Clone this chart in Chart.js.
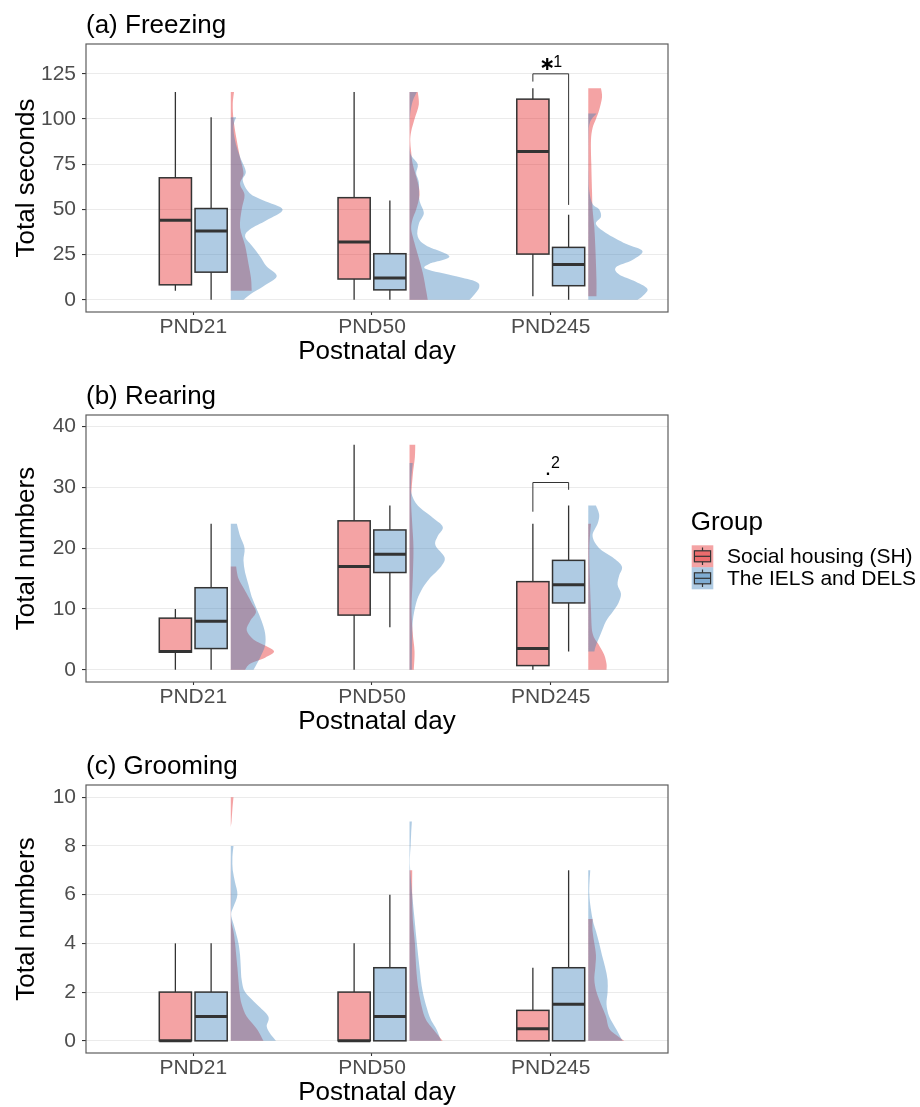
<!DOCTYPE html>
<html>
<head>
<meta charset="utf-8">
<script src="https://cdn.jsdelivr.net/npm/chart.js@4.4.0/dist/chart.umd.min.js"></script>
<style>
  html, body { margin: 0; padding: 0; background: #ffffff; }
  #wrap { position: relative; width: 920px; height: 1107px; overflow: hidden; background: #fff; }
  canvas { position: absolute; left: 0; }
</style>
</head>
<body>
<div id="wrap">
  <canvas id="cA" width="920" height="370" style="top:0px"></canvas>
  <canvas id="cB" width="920" height="370" style="top:370px"></canvas>
  <canvas id="cC" width="920" height="367" style="top:740px"></canvas>
</div>
<script>
// ---------------- DATA ----------------
const categories = ['PND21', 'PND50', 'PND245'];
const catPositions = [1, 2, 3];
const groupNames = ['Social housing (SH)', 'The IELS and DELS'];

// Box summaries per category: [lower whisker, Q1, median, Q3, upper whisker]
const freezingSH   = [[5, 8.3, 44, 67.5, 115], [0, 11.5, 32, 56.5, 115], [2, 25.3, 82, 111, 117]];
const freezingIELS = [[0, 15.3, 38, 50.5, 101], [0, 5.5, 12, 25.5, 55], [0, 7.8, 19.5, 29, 47]];
const rearingSH    = [[0, 2.9, 3, 8.5, 10], [0, 9, 17, 24.5, 37], [0, 0.7, 3.5, 14.5, 24]];
const rearingIELS  = [[0, 3.5, 8, 13.5, 24], [7, 16, 19, 23, 27], [3, 11, 14, 18, 27]];
const groomingSH   = [[0, 0, 0, 2, 4], [0, 0, 0, 2, 4], [0, 0, 0.5, 1.25, 3]];
const groomingIELS = [[0, 0, 1, 2, 4], [0, 0, 1, 3, 6], [0, 0, 1.5, 3, 7]];

// Half-violin densities per category: [value, half-width in 1/100 of a category step]
const freezingSHDensity = [
  [[115,1.8],[108,1.1],[100,1.5],[90,3.0],[80,4.9],[70,7.1],[64,5.2],[58,7.7],[50,6.1],[40,5.2],[30,8.0],[20,9.9],[12,11.3],[5,11.7]],
  [[115,4.6],[108,5.2],[100,2.8],[93,0.9],[88,0.4],[82,0.9],[75,1.8],[65,4.6],[58,5.6],[50,3.7],[45,1.8],[40,0.9],[35,1.8],[25,4.6],[15,7.4],[5,9.3],[0,10.2]],
  [[117,7.1],[112,7.7],[105,6.1],[100,4.3],[95,2.4],[88,1.5],[75,1.7],[60,2.1],[50,2.4],[40,3.4],[30,3.9],[20,4.3],[10,4.6],[2,4.6]]
];
const freezingIELSDensity = [
  [[101,3.0],[96,1.5],[88,2.4],[79,5.2],[71,8.4],[66,6.7],[59,10.6],[55,18.3],[50,29.0],[44,20.0],[39,10.8],[35,8.0],[30,11.7],[24,16.4],[18.5,20.0],[13,25.7],[7.5,18.3],[3,10.8],[0,7.1]],
  [[115,4.1],[110,1.8],[103,0.4],[95,0.1],[85,0.1],[80,0.9],[75,4.6],[70,3.7],[65,5.2],[55,5.6],[48,8.0],[42,5.2],[35,4.6],[30,9.3],[24,22.3],[20,11.2],[17,9.3],[13,26.0],[10,37.2],[7,39.0],[3,36.3],[0,33.5]],
  [[103,4.6],[98,0.9],[90,0.2],[70,0.2],[60,0.6],[53,2.4],[50,6.1],[46,7.1],[42,4.3],[37,9.9],[31,21.0],[27,30.3],[22,24.7],[18,15.5],[14,17.3],[10,26.6],[6,33.1],[2,30.3],[0,27.5]]
];
const rearingSHDensity = [
  [[17,3.0],[15,4.3],[13,8.0],[11,11.7],[9.5,14.1],[8,10.8],[6.5,8.9],[5,12.7],[4,19.2],[3,24.2],[2,19.2],[1,10.8],[0,8.0]],
  [[37,3.2],[35,3.0],[32,1.8],[28,0.9],[24,1.5],[20,2.2],[15,1.8],[10,1.1],[6,1.8],[3,2.8],[0,2.4]],
  [[24,1.5],[20,0.6],[15,0.9],[10,1.5],[6,2.4],[4,6.1],[2.5,8.9],[1,10.2],[0,10.2]]
];
const rearingIELSDensity = [
  [[24,3.4],[22,5.2],[20,7.7],[18,7.1],[16,8.0],[14,9.9],[12,11.7],[10,14.5],[8,17.3],[6,19.2],[4,19.2],[2,16.4],[0,12.7]],
  [[34,1.8],[31,0.9],[29,1.1],[27,4.6],[25,13.0],[23.5,18.6],[22,15.8],[20.5,14.5],[18.5,19.6],[17,17.7],[15,11.2],[13,6.5],[11,3.7],[8,1.8],[5,1.5],[2,1.3],[0,1.3]],
  [[27,4.3],[25.5,6.1],[24,5.2],[22,2.4],[20,6.1],[18.5,13.6],[17,18.8],[15.5,17.3],[14,16.4],[12.5,18.3],[11,16.9],[9.5,13.6],[8,9.9],[6,7.1],[4,4.3],[3,3.4]]
];
const groomingSHDensity = [
  [[10,1.5],[9.5,0.9],[9,0.4],[8.7,0],[8,0],[6,0.2],[5,0.2],[4.5,1.5],[4,2.4],[3,3.7],[2,4.9],[1.5,6.1],[1,8.9],[0.5,14.5],[0,18.3]],
  [[7,1.5],[6,1.5],[5,1.8],[4,3.0],[3,3.7],[2,5.2],[1,8.4],[0.5,13.0],[0,18.6]],
  [[5,2.4],[4.5,2.4],[4,3.4],[3.5,4.3],[3,3.9],[2.5,3.4],[2,4.6],[1.5,7.1],[1,9.9],[0.5,11.7],[0.2,16.4],[0,20.1]]
];
const groomingIELSDensity = [
  [[8,1.5],[7.5,0.9],[7,1.1],[6.5,2.4],[6,3.7],[5.5,1.5],[5.2,0.2],[4.8,1.5],[4.4,3.0],[4,4.3],[3.5,5.2],[3,5.6],[2.5,6.1],[2,8.0],[1.5,14.5],[1,21.0],[0.6,20.1],[0.3,22.0],[0,25.3]],
  [[9,1.3],[8.5,0.9],[8,0.6],[7.5,0.2],[7,0.4],[6,1.5],[5,2.8],[4,4.1],[3,5.6],[2,7.4],[1,11.2],[0.5,14.9],[0,17.7]],
  [[7,1.1],[6,0.6],[5,2.4],[4.5,4.3],[4,6.1],[3.5,7.7],[3,9.5],[2.5,10.8],[2,10.8],[1.5,10.2],[1,11.7],[0.5,15.5],[0,19.2]]
];

// Y axis ticks
const freezingTicks = [0, 25, 50, 75, 100, 125];
const rearingTicks  = [0, 10, 20, 30, 40];
const groomingTicks = [0, 2, 4, 6, 8, 10];

// Significance brackets at PND245: [bar height, left leg end, right leg end]
const freezingBracket = [125, 120.7, 52.5];
const rearingBracket  = [30.8, 26, 29.6];
const freezingSig = ['\u2217', '1'];
const rearingSig  = ['.', '2'];

// ---------------- STYLE ----------------
const FONT = '"Liberation Sans", Arial, Helvetica, sans-serif';
const FILLS = ['rgba(228,26,28,0.4)', 'rgba(55,126,184,0.4)'];
const LINE = '#333333';
const BOX_OFFSET = 0.1, BOX_WIDTH = 0.18, VIOLIN_OFFSET = 0.21;

function drawViolin(ctx, xs, ys, cat, den, color) {
  const x0 = xs.getPixelForValue(cat + VIOLIN_OFFSET);
  const pts = den.map(([v, w]) => [xs.getPixelForValue(cat + VIOLIN_OFFSET + w / 100), ys.getPixelForValue(v)]);
  const n = pts.length;
  ctx.beginPath();
  ctx.moveTo(x0, pts[0][1]);
  ctx.lineTo(pts[0][0], pts[0][1]);
  for (let i = 0; i < n - 1; i++) {
    const p0 = pts[Math.max(i - 1, 0)], p1 = pts[i], p2 = pts[i + 1], p3 = pts[Math.min(i + 2, n - 1)];
    const c1x = Math.max(x0, p1[0] + (p2[0] - p0[0]) / 6), c1y = p1[1] + (p2[1] - p0[1]) / 6;
    const c2x = Math.max(x0, p2[0] - (p3[0] - p1[0]) / 6), c2y = p2[1] - (p3[1] - p1[1]) / 6;
    ctx.bezierCurveTo(c1x, c1y, c2x, c2y, p2[0], p2[1]);
  }
  ctx.lineTo(x0, pts[n - 1][1]);
  ctx.closePath();
  ctx.fillStyle = color;
  ctx.fill();
}

function drawBox(ctx, xs, ys, center, stats, color) {
  const xc = xs.getPixelForValue(center);
  const xl = xs.getPixelForValue(center - BOX_WIDTH / 2);
  const xr = xs.getPixelForValue(center + BOX_WIDTH / 2);
  const [lo, q1, med, q3, hi] = stats.map(v => ys.getPixelForValue(v));
  ctx.strokeStyle = LINE;
  ctx.lineWidth = 1.3;
  ctx.beginPath();
  ctx.moveTo(xc, q3); ctx.lineTo(xc, hi);
  ctx.moveTo(xc, q1); ctx.lineTo(xc, lo);
  ctx.stroke();
  ctx.fillStyle = color;
  ctx.fillRect(xl, q3, xr - xl, q1 - q3);
  ctx.lineWidth = 1.5;
  ctx.strokeRect(xl, q3, xr - xl, q1 - q3);
  ctx.lineWidth = 3;
  ctx.beginPath();
  ctx.moveTo(xl, med); ctx.lineTo(xr, med);
  ctx.stroke();
}

function makeRainPlugin(panel) {
  return {
    id: 'rain',
    afterDatasetsDraw(chart) {
      const ctx = chart.ctx, xs = chart.scales.x, ys = chart.scales.y, a = chart.chartArea;
      ctx.save();
      ctx.beginPath();
      ctx.rect(a.left, a.top, a.right - a.left, a.bottom - a.top);
      ctx.clip();
      catPositions.forEach((cat, i) => {
        drawViolin(ctx, xs, ys, cat, panel.shDen[i], FILLS[0]);
        drawViolin(ctx, xs, ys, cat, panel.ielsDen[i], FILLS[1]);
      });
      catPositions.forEach((cat, i) => {
        drawBox(ctx, xs, ys, cat - BOX_OFFSET, panel.sh[i], FILLS[0]);
        drawBox(ctx, xs, ys, cat + BOX_OFFSET, panel.iels[i], FILLS[1]);
      });
      // significance bracket at PND245
      if (panel.bracket) {
        const b = panel.bracket, cat = catPositions[2];
        const bl = xs.getPixelForValue(cat - BOX_OFFSET), br = xs.getPixelForValue(cat + BOX_OFFSET);
        const by = ys.getPixelForValue(b[0]);
        ctx.strokeStyle = LINE;
        ctx.lineWidth = 1;
        ctx.beginPath();
        ctx.moveTo(bl, ys.getPixelForValue(b[1]));
        ctx.lineTo(bl, by);
        ctx.lineTo(br, by);
        ctx.lineTo(br, ys.getPixelForValue(b[2]));
        ctx.stroke();
        const xc = xs.getPixelForValue(cat);
        const s = panel.sigStyle;
        ctx.fillStyle = '#000';
        ctx.textBaseline = 'alphabetic';
        ctx.font = s.f1;
        ctx.textAlign = 'center';
        ctx.fillText(panel.sig[0], xc + s.dx1, by + s.dy1);
        ctx.font = s.f2;
        ctx.textAlign = 'left';
        ctx.fillText(panel.sig[1], xc + s.dx2, by + s.dy2);
      }
      ctx.restore();
      // panel border
      ctx.save();
      ctx.strokeStyle = '#5e5e5e';
      ctx.lineWidth = 1.2;
      ctx.strokeRect(a.left, a.top, a.right - a.left, a.bottom - a.top);
      ctx.restore();
    },
    afterDraw(chart) {
      const ctx = chart.ctx, a = chart.chartArea;
      ctx.save();
      ctx.fillStyle = '#000';
      ctx.font = '26px ' + FONT;
      ctx.textAlign = 'left';
      ctx.textBaseline = 'alphabetic';
      ctx.fillText(panel.title, a.left, a.top - 11.5);
      if (panel.legend) {
        const L = panel.legend;
        ctx.fillText('Group', L.x - 1, L.y);
        groupNames.forEach((name, i) => {
          const kx = L.x, ky = L.y + 15.8 + i * 22, kw = 21.6, kh = 22;
          ctx.fillStyle = FILLS[i];
          ctx.fillRect(kx, ky, kw, kh);
          // boxplot glyph
          ctx.strokeStyle = LINE;
          ctx.lineWidth = 1.2;
          ctx.beginPath();
          ctx.moveTo(kx + kw / 2, ky + kh * 0.1); ctx.lineTo(kx + kw / 2, ky + kh * 0.25);
          ctx.moveTo(kx + kw / 2, ky + kh * 0.75); ctx.lineTo(kx + kw / 2, ky + kh * 0.9);
          ctx.stroke();
          ctx.fillStyle = FILLS[i];
          ctx.fillRect(kx + kw * 0.125, ky + kh * 0.25, kw * 0.75, kh * 0.5);
          ctx.strokeRect(kx + kw * 0.125, ky + kh * 0.25, kw * 0.75, kh * 0.5);
          ctx.beginPath();
          ctx.moveTo(kx + kw * 0.125, ky + kh / 2); ctx.lineTo(kx + kw * 0.875, ky + kh / 2);
          ctx.stroke();
          ctx.fillStyle = '#000';
          ctx.font = '21px ' + FONT;
          ctx.textBaseline = 'middle';
          ctx.fillText(name, kx + 35.3, ky + kh / 2 + 0.5);
          ctx.textBaseline = 'alphabetic';
          ctx.font = '26px ' + FONT;
        });
      }
      ctx.restore();
    }
  };
}

function makePanel(canvasId, panel) {
  return new Chart(document.getElementById(canvasId), {
    type: 'scatter',
    data: { datasets: [] },
    options: {
      responsive: false,
      animation: false,
      devicePixelRatio: 1,
      events: [],
      layout: { padding: { top: panel.padTop, right: 252, bottom: 0, left: 0 } },
      plugins: { legend: { display: false }, tooltip: { enabled: false }, title: { display: false } },
      scales: {
        x: {
          type: 'linear', min: 0.4, max: 3.656,
          afterBuildTicks: s => { s.ticks = catPositions.map(v => ({ value: v })); },
          afterFit: s => { s.height = panel.xHeight; },
          ticks: {
            callback: (v, i) => categories[i],
            font: { family: FONT, size: 21, lineHeight: 1 },
            color: '#4d4d4d', padding: 2, maxRotation: 0, autoSkip: false
          },
          grid: { drawOnChartArea: false, tickLength: 3, tickColor: LINE, tickWidth: 1.1 },
          border: { display: false },
          title: {
            display: true, text: 'Postnatal day', color: '#000',
            font: { family: FONT, size: 26, lineHeight: 1 },
            padding: { top: 0, bottom: panel.xTitlePad }
          }
        },
        y: {
          type: 'linear', min: panel.yMin, max: panel.yMax,
          afterBuildTicks: s => { s.ticks = panel.yTicks.map(v => ({ value: v })); },
          afterFit: s => { s.width = 86; },
          ticks: {
            callback: v => String(v),
            font: { family: FONT, size: 21, lineHeight: 1 },
            color: '#4d4d4d', padding: 6
          },
          grid: { color: '#ebebeb', lineWidth: 1.1, tickLength: 4, tickColor: LINE, tickWidth: 1.1 },
          border: { display: false },
          title: {
            display: true, text: panel.yTitle, color: '#000',
            font: { family: FONT, size: 26, lineHeight: 1 },
            padding: { top: 14, bottom: 0 }
          }
        }
      }
    },
    plugins: [makeRainPlugin(panel)]
  });
}

makePanel('cA', {
  title: '(a) Freezing', yTitle: 'Total seconds',
  yMin: -6.74, yMax: 141.5, yTicks: freezingTicks,
  sh: freezingSH, iels: freezingIELS, shDen: freezingSHDensity, ielsDen: freezingIELSDensity,
  bracket: freezingBracket, sig: freezingSig,
  sigStyle: { f1: 'bold 19px "DejaVu Sans"', dx1: -3.5, dy1: -4, f2: '16px ' + FONT, dx2: 2.5, dy2: -6.4 },
  padTop: 44, xHeight: 58, xTitlePad: 5, legend: null
});
makePanel('cB', {
  title: '(b) Rearing', yTitle: 'Total numbers',
  yMin: -2.0, yMax: 41.9, yTicks: rearingTicks,
  sh: rearingSH, iels: rearingIELS, shDen: rearingSHDensity, ielsDen: rearingIELSDensity,
  bracket: rearingBracket, sig: rearingSig,
  sigStyle: { f1: 'bold 16px ' + FONT, dx1: -2.7, dy1: -7.4, f2: '16px ' + FONT, dx2: 0.3, dy2: -14.4 },
  padTop: 45, xHeight: 58, xTitlePad: 5, legend: { x: 691.7, y: 159.5 }
});
makePanel('cC', {
  title: '(c) Grooming', yTitle: 'Total numbers',
  yMin: -0.5, yMax: 10.5, yTicks: groomingTicks,
  sh: groomingSH, iels: groomingIELS, shDen: groomingSHDensity, ielsDen: groomingIELSDensity,
  bracket: null, sig: null, sigStyle: null,
  padTop: 45, xHeight: 54, xTitlePad: 1, legend: null
});
</script>
</body>
</html>
